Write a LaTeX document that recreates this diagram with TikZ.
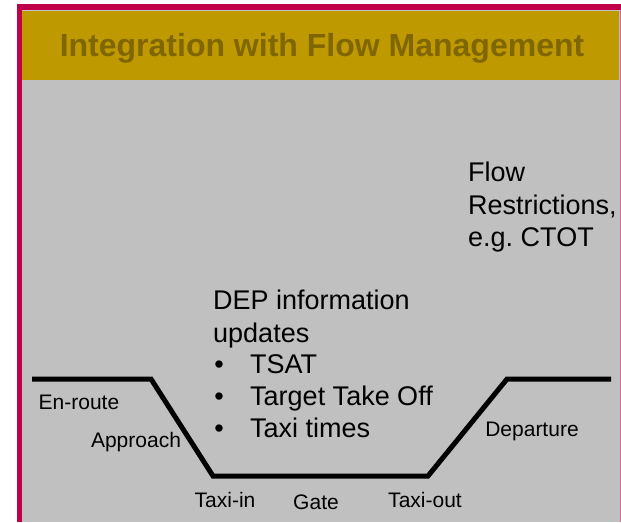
\documentclass[tikz,border=0pt]{standalone}
\usepackage{fontspec}
\setmainfont{Liberation Sans}
\definecolor{crimson}{RGB}{192,0,72}
\definecolor{goldband}{RGB}{191,153,0}
\definecolor{titlecol}{RGB}{128,102,0}
\definecolor{panel}{RGB}{192,192,192}
\begin{document}
\begin{tikzpicture}[x=1pt,y=-1pt,
  lbl/.style={font=\fontsize{21}{24}\selectfont, inner sep=0pt},
  body/.style={font=\fontsize{27}{32.3}\selectfont, inner sep=0pt, align=left},
  path/.style={line width=5pt, line join=miter}]
\useasboundingbox (0,0) rectangle (621,522);
\fill[white] (0,0) rectangle (621,522);
% panel
\fill[panel] (17,4) rectangle (621,522);
\fill[goldband] (22,11) rectangle (619,80);
\fill[crimson] (17,4) rectangle (621,10);
\fill[crimson] (17,4) rectangle (22,522);
\fill[crimson!60] (619.5,10) rectangle (621,522);
\node[font=\fontsize{32}{36}\selectfont\bfseries, text=titlecol, inner sep=0pt] (title) at (322,48) {Integration with Flow Management};
% profile
\coordinate (p1) at (32,379);
\coordinate (p2) at (151,379);
\coordinate (p3) at (213,476);
\coordinate (p4) at (428,476);
\coordinate (p5) at (507,379);
\coordinate (p6) at (611,379);
\draw[path] (p1) -- (p2) -- (p3) -- (p4) -- (p5) -- (p6);
% labels
\node[lbl] (enroute) at (79,402) {En-route};
\node[lbl] (approach) at (136,442) {Approach};
\node[lbl] (taxiin) at (225,500) {Taxi-in};
\node[lbl] (gate) at (316,502) {Gate};
\node[lbl] (taxiout) at (425,500) {Taxi-out};
\node[lbl] (departure) at (532,431) {Departure};
% flow restrictions
\node[body, anchor=north west] (flow) at (468,162) {Flow\\Restrictions,\\e.g.\ CTOT};
% DEP info
\node[body, anchor=north west] (dep) at (213,290) {DEP information\\updates};
\node[body, anchor=north west] (b1) at (250,354) {TSAT};
\node[body, anchor=north west] (b2) at (250,386) {Target Take Off};
\node[body, anchor=north west] (b3) at (250,418) {Taxi times};
\foreach \n in {b1,b2,b3} \node[body, anchor=base] at ([xshift=-31pt]\n.base west) {•};
\end{tikzpicture}
\end{document}
